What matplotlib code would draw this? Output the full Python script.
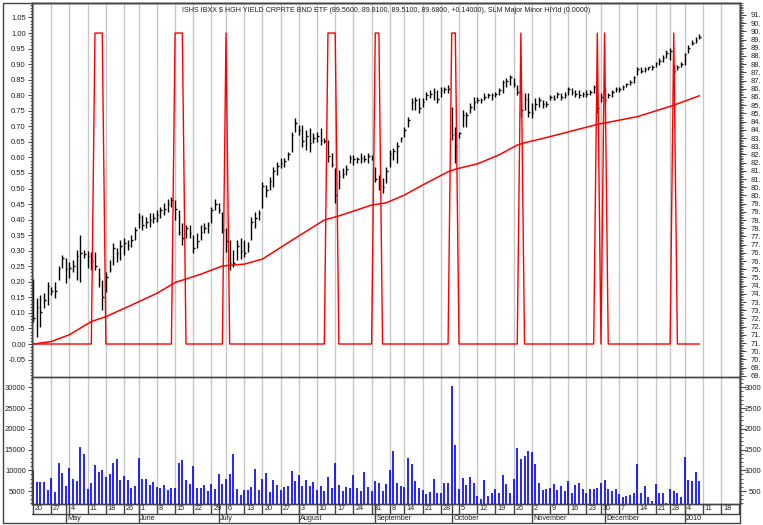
import numpy as np
import pandas as pd
import matplotlib
matplotlib.use("Agg")
import matplotlib.pyplot as plt
from matplotlib.ticker import FixedLocator, MultipleLocator, FormatStrFormatter, FixedFormatter

plt.rcParams['font.family'] = ['Liberation Sans', 'DejaVu Sans']

# ----------------------------------------------------------------------
# 1) Data: daily bars 20 Apr 2009 - 8 Jan 2010
# ----------------------------------------------------------------------
holidays = ["2009-05-25", "2009-07-03", "2009-09-07", "2009-11-26",
            "2009-12-25", "2010-01-01"]
trade_days = pd.bdate_range("2009-04-20", "2010-01-08")
trade_days = trade_days[~trade_days.isin(pd.to_datetime(holidays))]
blank_days = pd.bdate_range("2010-01-11", "2010-01-25")   # empty room after last bar

title = ("ISHS IBXX $ HGH YIELD CRPRTE BND ETF (89.5600, 89.8100, 89.5100, "
         "89.6800, +0.14000), SLM Major Minor HiYld (0.0000)")

bar_high = [74.90, 73.73, 73.94, 74.03, 74.73, 74.43, 74.73, 75.70, 76.36, 76.17,
            75.96, 76.06, 76.67, 77.58, 76.67, 76.63, 76.57, 76.57, 75.55, 74.85,
            75.34, 76.06, 77.08, 76.78, 77.27, 77.39, 77.27, 77.58, 78.09, 78.90,
            78.81, 78.71, 78.90, 78.90, 79.11, 79.30, 79.51, 79.81, 79.93, 79.72,
            79.11, 78.30, 78.20, 78.20, 77.58, 77.69, 78.20, 78.30, 78.39, 79.30,
            79.81, 79.51, 79.00, 77.99, 77.27, 76.67, 77.27, 77.39, 77.27, 77.18,
            78.69, 79.00, 79.11, 80.84, 80.63, 81.14, 81.75, 82.05, 82.26, 82.26,
            82.66, 83.89, 84.70, 84.29, 84.29, 83.98, 84.08, 83.78, 83.89, 84.08,
            83.47, 83.38, 82.56, 81.65, 81.54, 81.65, 81.84, 82.47, 82.47, 82.35,
            82.56, 82.47, 82.56, 82.47, 81.75, 81.24, 81.05, 81.75, 82.77, 82.87,
            83.26, 83.59, 84.19, 84.80, 85.92, 86.01, 85.92, 85.92, 86.32, 86.43,
            86.53, 86.43, 86.62, 86.62, 86.73, 85.41, 84.19, 83.89, 85.20, 85.10,
            85.62, 86.01, 86.01, 85.92, 86.22, 86.22, 86.22, 86.32, 86.53, 87.04,
            87.13, 87.34, 87.13, 86.73, 86.32, 86.22, 86.22, 85.62, 85.92, 86.01,
            85.82, 85.73, 86.13, 86.13, 86.32, 86.22, 86.32, 86.62, 86.53, 86.43,
            86.43, 86.32, 86.43, 86.43, 86.73, 86.32, 86.22, 86.53, 86.22, 86.43,
            86.62, 86.62, 86.73, 86.83, 87.04, 87.25, 87.85, 87.85, 87.85, 87.85,
            87.95, 88.16, 88.36, 88.55, 88.86, 88.97, 87.95, 87.95, 88.16, 88.67,
            89.16, 89.46, 89.67, 89.81]

bar_low = [72.31, 71.38, 72.00, 73.12, 73.31, 73.94, 73.73, 74.85, 75.55, 74.64,
           74.94, 75.34, 74.85, 74.73, 76.17, 75.55, 75.45, 75.45, 74.43, 73.01,
           74.13, 75.34, 75.76, 75.96, 76.06, 76.36, 76.67, 76.87, 77.27, 77.99,
           77.90, 77.99, 78.09, 78.30, 78.39, 78.60, 78.81, 79.00, 79.30, 78.50,
           77.58, 76.97, 77.39, 77.39, 76.48, 76.78, 77.27, 77.69, 77.69, 78.30,
           79.11, 78.90, 77.69, 76.57, 75.45, 75.66, 76.06, 76.15, 76.27, 76.57,
           77.27, 77.99, 78.50, 79.21, 79.93, 80.33, 80.53, 81.24, 81.65, 81.75,
           82.16, 82.66, 83.89, 83.68, 82.96, 82.77, 82.66, 83.17, 83.26, 83.07,
           83.17, 82.05, 81.75, 79.51, 80.42, 81.05, 81.24, 81.96, 81.84, 81.96,
           81.96, 82.05, 81.96, 82.16, 80.84, 80.33, 80.14, 80.74, 81.75, 82.16,
           81.96, 83.26, 83.59, 84.19, 85.20, 85.20, 85.01, 85.41, 85.82, 85.92,
           85.82, 85.62, 86.01, 86.22, 86.22, 83.38, 81.96, 83.47, 84.19, 84.19,
           85.01, 85.20, 85.62, 85.62, 85.82, 85.92, 85.82, 86.01, 86.13, 86.22,
           86.62, 86.73, 86.62, 86.13, 84.80, 85.20, 84.80, 84.70, 85.20, 85.41,
           85.31, 85.41, 85.82, 85.82, 85.92, 85.82, 85.92, 86.13, 86.13, 86.01,
           85.92, 86.01, 86.01, 86.13, 86.22, 85.01, 85.71, 85.62, 85.92, 86.01,
           86.32, 86.32, 86.43, 86.62, 86.73, 86.83, 87.34, 87.44, 87.55, 87.64,
           87.64, 87.85, 87.95, 88.16, 88.36, 88.25, 87.44, 87.64, 87.85, 87.95,
           88.67, 89.16, 89.27, 89.51]

bar_close = [72.5, 73.2, 72.9, 73.6, 74.5, 74.2, 74.2, 75.5, 76.2, 75.5,
             75.6, 75.7, 76.3, 76.5, 76.4, 76.3, 76.0, 75.7, 74.9, 73.8,
             75.0, 75.5, 76.8, 76.5, 76.9, 77.1, 77.0, 77.3, 77.9, 78.7,
             78.2, 78.4, 78.5, 78.6, 78.8, 79.1, 79.2, 79.5, 79.7, 79.2,
             77.8, 77.4, 78.0, 77.7, 76.8, 77.2, 77.8, 78.0, 78.2, 79.1,
             79.5, 79.1, 77.9, 77.2, 75.9, 75.9, 76.9, 76.6, 76.5, 76.9,
             78.4, 78.6, 78.9, 80.6, 80.3, 80.9, 81.5, 81.8, 82.0, 82.1,
             82.5, 83.7, 84.4, 84.0, 83.3, 83.6, 83.2, 83.5, 83.6, 83.4,
             83.3, 82.4, 81.9, 80.0, 81.2, 81.3, 81.6, 82.3, 82.2, 82.2,
             82.3, 82.2, 82.4, 82.3, 81.0, 80.6, 80.5, 81.5, 82.5, 82.7,
             83.0, 83.5, 84.0, 84.6, 85.7, 85.8, 85.3, 85.7, 86.1, 86.2,
             86.3, 85.9, 86.4, 86.5, 86.5, 83.7, 83.0, 83.8, 84.9, 84.9,
             85.4, 85.7, 85.8, 85.8, 86.0, 86.1, 86.1, 86.2, 86.4, 86.9,
             87.0, 87.2, 86.8, 86.3, 85.2, 85.9, 85.1, 85.0, 85.6, 85.8,
             85.6, 85.6, 86.0, 85.9, 86.2, 86.0, 86.1, 86.5, 86.3, 86.2,
             86.1, 86.2, 86.2, 86.3, 86.6, 85.3, 86.0, 85.8, 86.1, 86.3,
             86.5, 86.5, 86.6, 86.8, 86.9, 87.2, 87.7, 87.6, 87.7, 87.8,
             87.8, 88.1, 88.2, 88.4, 88.7, 88.8, 87.6, 87.8, 88.0, 88.6,
             89.0, 89.3, 89.5, 89.68]

volume = [10100, 7200, 7200, 7200, 5300, 8100, 4700, 11700, 9300, 6200,
          10500, 7900, 7500, 15500, 13800, 5400, 6900, 11200, 9700, 10100,
          8400, 9100, 11700, 12800, 7700, 8600, 7600, 5800, 6200, 13000,
          7900, 7900, 6400, 7100, 6000, 5800, 6500, 5300, 5800, 5800,
          11800, 12400, 7700, 6800, 11000, 5800, 5800, 6500, 5000, 6600,
          5400, 9200, 6600, 8000, 9000, 13800, 5500, 4000, 5300, 5200,
          6000, 10400, 5300, 7900, 9400, 4800, 7600, 6500, 5200, 6000,
          6300, 9900, 7500, 8900, 6200, 7600, 6300, 7200, 5300, 6300,
          5000, 8300, 5800, 11700, 6500, 5000, 6000, 5700, 8900, 5800,
          4900, 9700, 6000, 5000, 7500, 7000, 4900, 6800, 10000, 14600,
          7000, 6200, 5900, 13000, 11600, 7500, 5800, 5200, 4200, 4700,
          7900, 4500, 4500, 7000, 7000, 30200, 16100, 5600, 8200, 6500,
          8300, 6900, 3800, 3000, 7700, 3900, 4500, 5500, 4400, 8800,
          6600, 4400, 8000, 15300, 12800, 13500, 14700, 14500, 11500, 7000,
          5300, 5600, 5800, 6800, 5300, 6300, 5100, 7300, 4500, 6500,
          6900, 5600, 4400, 5400, 5500, 5800, 6900, 7700, 5600, 5000,
          5500, 4200, 3600, 3700, 4100, 4500, 11400, 4400, 6300, 3500,
          2700, 6600, 4400, 4500, 2100, 5500, 5000, 4400, 3600, 13300,
          7600, 7300, 9600, 7300]

# bars (by position) on which the SLM signal is 1, it is 0 elsewhere
signal_on = [17, 18, 19, 39, 40, 41, 53, 81, 82, 83, 94, 95,
             115, 116, 134, 155, 157, 176]

# red average line on the price scale, read at these bar positions
ma_pos = [0, 5, 10, 16, 20, 27, 34, 39, 46, 52, 58, 63, 72, 80, 84,
          93, 97, 102, 107, 114, 116, 122, 128, 133, 135, 140, 155, 166, 176, 183]
ma_price = [70.94, 71.09, 71.51, 72.31, 72.61, 73.31, 74.03, 74.69, 75.19, 75.70,
            75.81, 76.12, 77.39, 78.50, 78.75, 79.41, 79.55, 80.02, 80.63, 81.44,
            81.60, 81.92, 82.47, 83.07, 83.21, 83.47, 84.33, 84.80, 85.50, 86.07]

# right-hand scale labels, as far as they show before the picture's edge
price_ticks = [69.0, 69.5, 70.0, 70.5, 71.0, 71.5, 72.0, 72.5, 73.0, 73.5, 74.0, 74.5,
               75.0, 75.5, 76.0, 76.5, 77.0, 77.5, 78.0, 78.5, 79.0, 79.5, 80.0, 80.5,
               81.0, 81.5, 82.0, 82.5, 83.0, 83.5, 84.0, 84.5, 85.0, 85.5, 86.0, 86.5,
               87.0, 87.5, 88.0, 88.5, 89.0, 89.5, 90.0, 90.5, 91.0]
price_labels = ["69.", "69.", "70.", "70.", "71.", "71.", "72.", "72.", "73.", "73.",
                "74.", "74.", "75.", "75.", "76.", "76.", "77.", "77.", "78.", "78.",
                "79.", "79.", "80.", "80.", "81.", "81.", "82.", "82.", "83.", "83.",
                "84.", "84.", "85.", "85.", "86.", "86.", "87.", "87.", "88.", "88.",
                "89.", "89.", "90.", "90.", "91."]
vol_ticks = [5000, 10000, 15000, 20000, 25000, 30000]
vol_labels_left = ["5000", "10000", "15000", "20000", "25000", "30000"]
vol_labels_right = ["500", "1000", "1500", "2000", "2500", "3000"]

# ----------------------------------------------------------------------
# 2) Layout in pixels
# ----------------------------------------------------------------------
W, H = 763, 525
fig = plt.figure(figsize=(W / 100, H / 100), dpi=100)
fig.patch.set_facecolor("white")


def panel(left, top, right, bottom):
    return fig.add_axes([left / W, 1 - bottom / H, (right - left) / W, (bottom - top) / H])


ax = panel(32, 3, 740, 377)      # signal, left scale
axp = ax.twinx()                  # price, right scale
axv = panel(32, 377, 740, 504)   # volume
axv2 = axv.twinx()                # right-hand volume labels
axd = panel(32, 504, 740, 523)   # day / month rows

ax.set_zorder(3)
axp.set_zorder(2)
ax.patch.set_visible(False)

XLIM = (-0.3, 194.2)
VLIM = (1866, 32483)
spine_c = "#444444"
txt_c = "#222222"
FS = 5.5

n = len(trade_days)
x = np.arange(n)
all_days = trade_days.append(blank_days)
pos = np.arange(len(all_days))
iso = all_days.isocalendar()
week_id = (iso["year"] * 100 + iso["week"]).to_numpy()
week_start = pos[np.r_[True, week_id[1:] != week_id[:-1]]]
month_id = np.asarray(all_days.year * 12 + all_days.month)
month_start = pos[1:][month_id[1:] != month_id[:-1]]

# ----------------------------------------------------------------------
# 3) Price panel
# ----------------------------------------------------------------------
for p in week_start:
    axp.axvline(p, color="#c8c8c8", lw=1, zorder=0)
    axv.axvline(p, color="#c8c8c8", lw=1, zorder=0)

axp.vlines(x, bar_low, bar_high, color="black", lw=1, zorder=2)
axp.hlines(bar_close, x, x + 0.45, color="black", lw=1, zorder=2)
axp.plot(ma_pos, ma_price, color="red", lw=1.1, zorder=3)

signal = np.isin(x, signal_on).astype(float)
ax.plot(x, signal, color="red", lw=1)

ax.set_xlim(XLIM)
ax.set_ylim(-0.1061, 1.0965)
axp.set_ylim(68.93, 91.73)

ax.yaxis.set_major_locator(FixedLocator(np.round(np.arange(-0.05, 1.051, 0.05), 2)))
ax.yaxis.set_minor_locator(MultipleLocator(0.01))
ax.yaxis.set_major_formatter(FormatStrFormatter("%.2f"))
ax.tick_params(axis="y", which="major", length=3, width=0.7, pad=1.5,
               labelsize=FS, labelcolor=txt_c, color=spine_c)
ax.tick_params(axis="y", which="minor", length=1.5, width=0.6, color=spine_c)
ax.tick_params(axis="x", which="both", bottom=False, labelbottom=False)

axp.yaxis.set_major_locator(FixedLocator(price_ticks))
axp.yaxis.set_major_formatter(FixedFormatter(price_labels))
axp.yaxis.set_minor_locator(MultipleLocator(0.1))
axp.tick_params(axis="y", which="major", length=4.3, width=0.7, pad=11.2,
                labelsize=FS, labelcolor=txt_c, color=spine_c)
axp.tick_params(axis="y", which="minor", length=2.2, width=0.6, color=spine_c)
plt.setp(axp.get_yticklabels(), ha="right")

for a in (ax, axp):
    for s in a.spines.values():
        s.set_color(spine_c)
        s.set_linewidth(1)

fig.text(386 / W, 1 - 10 / H, title, ha="center", va="center",
         fontsize=5.15, color=txt_c)

# ----------------------------------------------------------------------
# 4) Volume panel
# ----------------------------------------------------------------------
axv.vlines(x, 0, volume, color="#0000ff", lw=1.2, zorder=2)
axv.set_xlim(XLIM)
axv.set_ylim(VLIM)
axv2.set_ylim(VLIM)
axv.yaxis.set_major_locator(FixedLocator(vol_ticks))
axv.yaxis.set_major_formatter(FixedFormatter(vol_labels_left))
axv.yaxis.set_minor_locator(MultipleLocator(1000))
axv.tick_params(axis="y", which="major", length=3, width=0.7, pad=1.5,
                labelsize=FS, labelcolor=txt_c, color=spine_c)
axv.tick_params(axis="y", which="minor", length=1.5, width=0.6, color=spine_c)
axv.tick_params(axis="x", which="both", bottom=False, labelbottom=False)

axv2.yaxis.set_major_locator(FixedLocator(vol_ticks))
axv2.yaxis.set_major_formatter(FixedFormatter(vol_labels_right))
axv2.yaxis.set_minor_locator(MultipleLocator(1000))
axv2.tick_params(axis="y", which="major", length=4.3, width=0.7, pad=11.2,
                 labelsize=FS, labelcolor=txt_c, color=spine_c)
axv2.tick_params(axis="y", which="minor", length=2.2, width=0.6, color=spine_c)
plt.setp(axv2.get_yticklabels(), ha="right")

for a in (axv, axv2):
    for s in a.spines.values():
        s.set_color(spine_c)
        s.set_linewidth(1)
    a.spines["top"].set_visible(False)

# ----------------------------------------------------------------------
# 5) Date rows (week starts on top, months below)
# ----------------------------------------------------------------------
axd.set_xlim(XLIM)
axd.set_ylim(0, 19)
axd.axis("off")
axd.axhline(9, color=spine_c, lw=1)
axd.vlines(week_start, 9, 19, color=spine_c, lw=1)
axd.vlines(month_start, 0, 19, color=spine_c, lw=1)
for p in week_start:
    t = axd.text(p + 0.5, 14, str(all_days[p].day), ha="left", va="center",
                 fontsize=5.2, color=txt_c)
    t.set_clip_on(True)
for p in month_start:
    d = all_days[p]
    lab = str(d.year) if d.month == 1 else d.strftime("%B")
    t = axd.text(p + 0.4, 4.3, lab, ha="left", va="center", fontsize=5.2, color=txt_c)
    t.set_clip_on(True)

# outer frame
fig.add_artist(plt.Rectangle((2.5 / W, 1 - 523 / H), (740 - 2.5) / W, (523 - 2.5) / H,
                             fill=False, ec=spine_c, lw=1, transform=fig.transFigure))

fig.savefig("out.png", dpi=100)
